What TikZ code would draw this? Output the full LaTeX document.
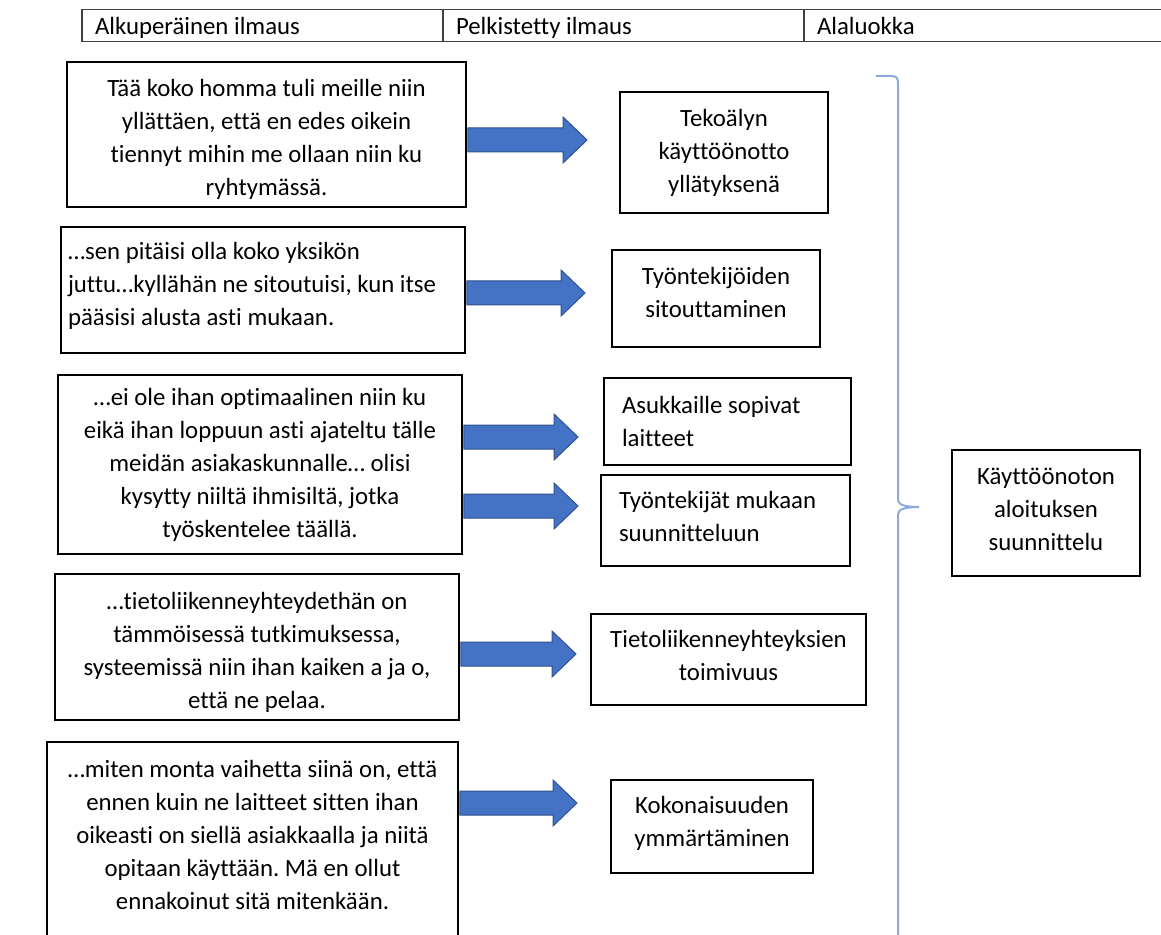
\documentclass[tikz,border=0pt]{standalone}
\usepackage{fontspec}
\setmainfont{Carlito}[Ligatures=NoCommon]
\usetikzlibrary{calc}
\definecolor{arrowfill}{HTML}{4472C4}
\definecolor{arrowline}{HTML}{2F528F}
\definecolor{bracecol}{HTML}{8EA9DB}
\newcommand\padtop[1]{\rule{0pt}{#1}}
\newcommand\padbot[1]{\rule[-#1]{0pt}{0pt}}
\frenchspacing
\begin{document}
\begin{tikzpicture}[x=0.5pt, y=-0.5pt,
  txt/.style={font=\fontsize{12.4}{16.5}\selectfont\frenchspacing},
  box/.style={txt, draw=black, line width=0.9pt, align=center, inner sep=0pt},
  lbox/.style={box, align=left, inner xsep=#1, execute at begin node={\spaceskip=0pt\xspaceskip=0pt\relax}},
  cell/.style={txt, draw=black!75, line width=0.75pt, align=left, inner xsep=6.5pt, inner ysep=0pt,
    text height=12.85pt, text depth=3.35pt, execute at begin node={\spaceskip=0pt\xspaceskip=0pt\relax}},
  barrow/.style={fill=arrowfill, draw=arrowline, line width=0.5pt,
    to path={let \p1=(\tikztostart), \p2=(\tikztotarget) in
      (\x1,\y1+6pt) -- (\x2-12pt,\y1+6pt) -- (\x2-12pt,\y1+11.5pt) -- (\x2,\y1)
      -- (\x2-12pt,\y1-11.5pt) -- (\x2-12pt,\y1-6pt) -- (\x1,\y1-6pt) -- cycle}}]
  \useasboundingbox (0,0) rectangle (1161,935);
  \clip (0,0) rectangle (1161,935);

  \node[cell, text width=167.5pt] (h1) at (262.5,25.5) {Alkuperäinen ilmaus};
  \node[cell, text width=167.5pt] (h2) at (623.5,25.5) {Pelkistetty ilmaus};
  \node[cell, text width=172.5pt] (h3) at (989.5,25.5) {Alaluokka};

  \node[box, minimum width=199.5pt, minimum height=72.5pt] (q1) at (266.5,134.5)
    {\padtop{13.6pt}Tää koko homma tuli meille niin\\ yllättäen, että en edes oikein\\ tiennyt mihin me ollaan niin ku\\ ryhtymässä.};
  \node[lbox=3.5pt, text width=195pt, minimum height=63pt] (q2) at (263,290)
    {…sen pitäisi olla koko yksikön\\ juttu…kyllähän ne sitoutuisi, kun itse\\ pääsisi alusta asti mukaan.\padbot{6.5pt}};
  \node[box, minimum width=202pt, minimum height=89.5pt] (q3) at (260,464.5)
    {…ei ole ihan optimaalinen niin ku\\ eikä ihan loppuun asti ajateltu tälle\\ meidän asiakaskunnalle… olisi\\ kysytty niiltä ihmisiltä, jotka\\ työskentelee täällä.};
  \node[box, minimum width=202pt, minimum height=73pt] (q4) at (257,647)
    {\padtop{13.6pt}…tietoliikenneyhteydethän on\\ tämmöisessä tutkimuksessa,\\ systeemissä niin ihan kaiken a ja o,\\ että ne pelaa.};
  \node[box, minimum width=205.5pt, minimum height=109pt] (q5) at (252.5,851)
    {…miten monta vaihetta siinä on, että\\ ennen kuin ne laitteet sitten ihan\\ oikeasti on siellä asiakkaalla ja niitä\\ opitaan käyttään. Mä en ollut\\ ennakoinut sitä mitenkään.\\ \mbox{}};

  \node[box, minimum width=104pt, minimum height=60.5pt] (r1) at (724,152.5)
    {Tekoälyn\\ käyttöönotto\\ yllätyksenä};
  \node[box, minimum width=104pt, minimum height=48.5pt] (r2) at (716,298.5)
    {Työntekijöiden\\ sitouttaminen\padbot{6pt}};
  \node[lbox=9pt, text width=105.5pt, minimum height=43.5pt] (r3) at (727.5,421.5)
    {Asukkaille sopivat\\ laitteet};
  \node[lbox=9pt, text width=106.5pt, minimum height=45.5pt] (r4) at (725.5,520.5)
    {Työntekijät mukaan\\ suunnitteluun\padbot{4pt}};
  \node[box, minimum width=137.5pt, minimum height=45.5pt] (r5) at (728.5,659.5)
    {Tietoliikenneyhteyksien\\ toimivuus\padbot{4pt}};
  \node[box, minimum width=101pt, minimum height=46.5pt] (r6) at (712,826.5)
    {Kokonaisuuden\\ ymmärtäminen\padbot{5.5pt}};
  \node[box, minimum width=94pt, minimum height=63pt] (k) at (1046,513)
    {Käyttöönoton\\ aloituksen\\ suunnittelu\padbot{4pt}};

  \coordinate (t1) at (587,140);
  \coordinate (t2) at (585,293);
  \coordinate (t3) at (578,437);
  \coordinate (t4) at (578,506);
  \coordinate (t5) at (576,654);
  \coordinate (t6) at (577,803);
  \draw[barrow] ([xshift=0.45pt]q1.east |- t1) to (t1);
  \draw[barrow] ([xshift=0.45pt]q2.east |- t2) to (t2);
  \draw[barrow] ([xshift=0.45pt]q3.east |- t3) to (t3);
  \draw[barrow] ([xshift=0.45pt]q3.east |- t4) to (t4);
  \draw[barrow] ([xshift=0.45pt]q4.east |- t5) to (t5);
  \draw[barrow] ([xshift=0.45pt]q5.east |- t6) to (t6);

  \draw[bracecol, line width=1pt] (876,76) -- (891,76) .. controls (897,76) and (898,78) .. (898,84)
    -- (898,500) .. controls (898,505) and (906,507) .. (919,507)
    .. controls (906,507) and (898,509) .. (898,514) -- (898,950);
\end{tikzpicture}
\end{document}
